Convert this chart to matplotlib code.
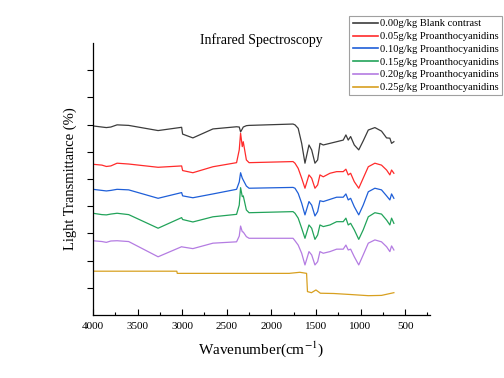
import matplotlib
matplotlib.use("Agg")
import matplotlib.pyplot as plt

plt.rcParams["font.family"] = ["Liberation Serif", "DejaVu Serif"]
plt.rcParams["mathtext.fontset"] = "stix"

# wavenumber grid shared by the five spectra with the same features (cm-1)
wn = [4000, 3900, 3850, 3800, 3730, 3600, 3270, 3006, 2995, 2880, 2655, 2390,
      2360, 2345, 2326, 2315, 2280, 2250, 1757, 1735, 1699, 1660, 1623, 1578,
      1548, 1511, 1481, 1455, 1418, 1343, 1268, 1194, 1164, 1138, 1111, 1070,
      1020, 970, 913, 839, 765, 708, 671, 652, 626]

blank = [69.5, 69.1, 68.9, 69.1, 69.9, 69.7, 67.8, 69.0, 66.5, 65.1, 68.4, 69.2,
         69.1, 67.3, 68.4, 69.1, 69.6, 69.7, 70.2, 69.9, 68.6, 63.1, 55.8, 62.5,
         60.7, 55.8, 57.0, 63.1, 62.5, 63.1, 63.7, 64.3, 66.2, 64.3, 65.6, 62.5,
         60.7, 64.0, 68.0, 68.9, 67.6, 65.1, 65.0, 63.1, 63.7]

pa005 = [55.4, 55.1, 54.6, 54.8, 55.8, 55.5, 54.3, 54.8, 53.1, 52.3, 54.5, 56.0,
         60.7, 66.8, 61.9, 63.7, 57.0, 56.0, 56.4, 55.8, 53.9, 50.3, 46.6, 51.5,
         50.3, 46.6, 47.8, 51.5, 50.8, 52.1, 52.7, 52.7, 53.6, 51.5, 52.1, 49.0,
         46.6, 50.3, 54.5, 55.8, 55.1, 53.3, 51.5, 53.3, 52.1]

pa010 = [46.2, 45.8, 45.6, 45.8, 46.2, 46.0, 42.9, 45.0, 43.8, 43.1, 44.5, 46.2,
         48.9, 52.3, 50.3, 49.6, 47.4, 46.6, 46.9, 46.6, 44.7, 41.1, 36.8, 41.7,
         40.4, 36.4, 38.0, 42.0, 41.7, 42.5, 43.3, 43.3, 44.5, 42.3, 42.9, 39.8,
         36.8, 40.4, 45.3, 46.6, 46.0, 43.8, 42.3, 44.5, 42.9]

pa015 = [37.4, 36.9, 36.8, 37.1, 37.4, 36.9, 31.9, 35.8, 35.1, 34.2, 36.1, 37.0,
         40.4, 46.8, 43.5, 43.8, 38.6, 37.6, 38.0, 37.4, 35.6, 31.9, 28.2, 33.1,
         31.9, 27.8, 29.4, 33.1, 32.5, 33.1, 34.3, 34.3, 35.6, 33.1, 33.7, 31.3,
         27.8, 31.3, 36.1, 37.6, 37.1, 34.9, 33.1, 35.6, 33.7]

pa020 = [27.3, 27.0, 26.7, 27.2, 27.3, 27.0, 21.4, 25.1, 25.0, 24.4, 26.4, 26.9,
         29.0, 32.7, 30.6, 30.5, 28.8, 28.2, 28.2, 27.3, 25.7, 22.7, 18.4, 23.3,
         22.1, 18.4, 19.6, 23.3, 22.7, 23.3, 24.2, 24.2, 25.7, 23.9, 24.2, 21.4,
         18.4, 22.1, 26.4, 27.6, 26.9, 25.1, 23.3, 25.4, 23.9]

# the 0.25 g/kg spectrum is almost flat, so it has its own grid
wn_025 = [4000, 3060, 3055, 1800, 1680, 1605, 1595, 1550, 1500, 1450, 1300,
          1100, 913, 765, 626]
pa025 = [16.1, 16.1, 15.3, 15.3, 15.7, 15.3, 8.6, 8.2, 9.2, 8.0, 7.9,
         7.5, 7.1, 7.2, 8.2]

labels = ["0.00g/kg Blank contrast",
          "0.05g/kg Proanthocyanidins",
          "0.10g/kg Proanthocyanidins",
          "0.15g/kg Proanthocyanidins",
          "0.20g/kg Proanthocyanidins",
          "0.25g/kg Proanthocyanidins"]
colors = ["#3c3c3c", "#ff2b2b", "#1f5fd8", "#22a35a", "#b47ce2", "#d8a020"]

fig = plt.figure(figsize=(5.04, 3.78), dpi=100)
ax = fig.add_axes([0.1845, 0.1667, 0.6685, 0.7196])

series = [(wn, blank), (wn, pa005), (wn, pa010), (wn, pa015), (wn, pa020),
          (wn_025, pa025)]
for (x, y), lab, col in zip(series, labels, colors):
    ax.plot(x, y, color=col, lw=0.9, label=lab)

ax.set_xlim(4000, 222)
ax.set_ylim(0, 100)
ax.set_xticks(range(4000, 499, -500))
ax.set_xticks(range(3750, 249, -500), minor=True)
ax.set_yticks(range(10, 100, 10))
ax.set_yticklabels([])
ax.tick_params(axis="x", direction="in", length=4, width=0.8, labelsize=8, pad=5)
ax.tick_params(axis="x", which="minor", direction="in", length=2, width=0.8)
ax.tick_params(axis="y", direction="out", length=4, width=0.8)
for side in ("top", "right"):
    ax.spines[side].set_visible(False)
for side in ("left", "bottom"):
    ax.spines[side].set_linewidth(0.9)

ax.text(0.5, 1.01, "Infrared Spectroscopy", transform=ax.transAxes,
        ha="center", va="center", fontsize=10)
ax.set_xlabel(r"Wavenumber(cm$^{-1}$)", fontsize=11, labelpad=6)
ax.set_ylabel("Light Transmittance (%)", fontsize=10.5, labelpad=4)

leg = ax.legend(loc="upper right", bbox_to_anchor=(0.996, 0.958),
                bbox_transform=fig.transFigure, fontsize=7.6, frameon=True,
                fancybox=False, edgecolor="#888888", borderaxespad=0,
                handlelength=2.4, handletextpad=0.2, labelspacing=0.32,
                borderpad=0.3)
leg.get_frame().set_linewidth(0.8)
for h in leg.get_lines():
    h.set_linewidth(1.2)

fig.savefig("out.png", dpi=100)
